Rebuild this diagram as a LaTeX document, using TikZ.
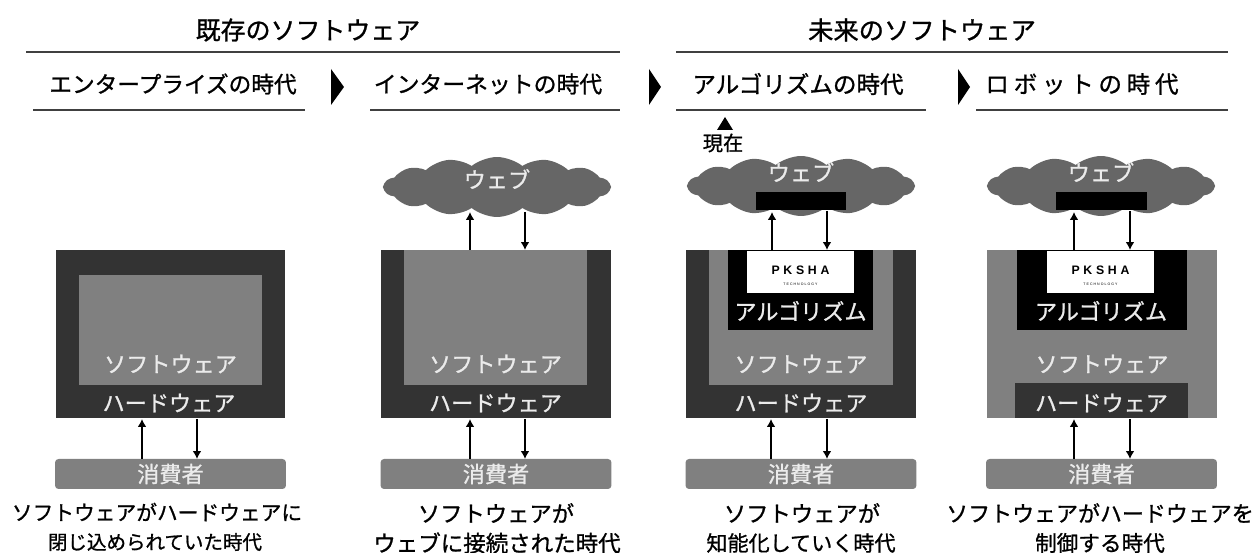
\documentclass[tikz,border=0pt]{standalone}
\usepackage{fontspec}
\newfontfamily\jpfont[FakeBold=1]{Noto Sans CJK JP}
\newfontfamily\jpwide[FakeBold=1,LetterSpace=20]{Noto Sans CJK JP}
\newfontfamily\logofont[LetterSpace=30]{Liberation Sans}
\usetikzlibrary{shapes.symbols,arrows.meta}
\definecolor{darkbox}{HTML}{333333}
\definecolor{midbox}{HTML}{808080}
\definecolor{cloudgray}{HTML}{666666}
\tikzset{
  lbl/.style={inner sep=0, font=\jpfont\fontsize{#1}{14}\selectfont},
  lbl/.default=12.6,
  wlbl/.style={lbl, text=white!92!black},
  box/.style={rectangle, inner sep=0, fill=#1},
  web/.style={cloud, cloud puffs=14, cloud puff arc=78, cloud ignores aspect, inner sep=0,
    minimum width=4.52cm, minimum height=1.2cm, fill=cloudgray},
  user/.style={box=midbox, rounded corners=2pt, minimum width=4.62cm, minimum height=0.6cm},
  rule/.style={draw=black!75, line width=1.3pt},
  flow/.style={draw, line width=1.3pt, -{Latex[length=4.5pt,width=5pt]}}
}
\begin{document}
\begin{tikzpicture}[x=0.02cm,y=-0.02cm]
\useasboundingbox (0,0) rectangle (1259,553);

% titles
\node[lbl=14.2] (past) at (308,30) {既存のソフトウェア};
\node[lbl=14.4] (future) at (922,30) {未来のソフトウェア};
\coordinate (pastl) at (26,52);
\coordinate (pastr) at (620,52);
\coordinate (futl) at (676,52);
\coordinate (futr) at (1228,52);
\path[rule] (pastl) -- (pastr);
\path[rule] (futl) -- (futr);

\node[lbl=12.9] (era1) at (173,84) {エンタープライズの時代};
\node[lbl=13] (era2) at (488,84) {インターネットの時代};
\node[lbl=13.4] (era3) at (798,84) {アルゴリズムの時代};
\node[inner sep=0, font=\jpwide\fontsize{13.4}{14}\selectfont] (era4) at (1082,84) {ロボットの時代};
\coordinate (e1l) at (33,110);
\coordinate (e1r) at (305,110);
\coordinate (e2l) at (370,110);
\coordinate (e2r) at (620,110);
\coordinate (e3l) at (676,110);
\coordinate (e3r) at (926,110);
\coordinate (e4l) at (976,110);
\coordinate (e4r) at (1228,110);
\path[rule] (e1l) -- (e1r);
\path[rule] (e2l) -- (e2r);
\path[rule] (e3l) -- (e3r);
\path[rule] (e4l) -- (e4r);

\fill (331,69) -- (344,87) -- (331,105) -- cycle;
\fill (649,69) -- (661,87) -- (649,105) -- cycle;
\fill (958,69) -- (970,87) -- (958,105) -- cycle;

\fill (725,117) -- (733,130) -- (717,130) -- cycle;
\node[lbl=11.5] (now) at (723,143) {現在};

% enterprise
\node[box=darkbox, minimum width=4.58cm, minimum height=3.36cm] (hw1) at (170.5,334) {};
\node[box=midbox, minimum width=3.66cm, minimum height=2.2cm] (sw1) at (170.5,330) {};
\node[wlbl] (swt1) at (170.5,364) {ソフトウェア};
\node[wlbl] (hwt1) at (169,403) {ハードウェア};
\node[user] (usr1) at (170.5,474) {};
\node[wlbl] (usrt1) at (170.5,474) {消費者};
\coordinate (a1) at (142,459);
\coordinate (b1) at (142,419);
\coordinate (c1) at (197,419);
\coordinate (d1) at (197,459);
\path[flow] (a1) -- (b1);
\path[flow] (c1) -- (d1);
\node[lbl=11.8] (cap1a) at (157,512) {ソフトウェアがハードウェアに};
\node[lbl=11.1] (cap1b) at (155,542) {閉じ込められていた時代};

% internet
\node[box=darkbox, minimum width=4.6cm, minimum height=3.36cm] (hw2) at (496,334) {};
\node[box=midbox, minimum width=3.66cm, minimum height=2.7cm] (sw2) at (495.5,317.5) {};
\node[wlbl] (swt2) at (495.5,364) {ソフトウェア};
\node[wlbl] (hwt2) at (495.5,403) {ハードウェア};
\node[web] (web2) at (497,187) {};
\node[wlbl] (webt2) at (497,179) {ウェブ};
\node[user] (usr2) at (496,474) {};
\node[wlbl] (usrt2) at (496,474) {消費者};
\coordinate (e2) at (470,250);
\coordinate (f2) at (470,212);
\coordinate (g2) at (525,212);
\coordinate (h2) at (525,250);
\path[flow] (e2) -- (f2);
\path[flow] (g2) -- (h2);
\coordinate (a2) at (470,459);
\coordinate (b2) at (470,419);
\coordinate (c2) at (525,419);
\coordinate (d2) at (525,459);
\path[flow] (a2) -- (b2);
\path[flow] (c2) -- (d2);
\node[lbl=12.7] (cap2a) at (496,513) {ソフトウェアが};
\node[lbl=12.8] (cap2b) at (497,543) {ウェブに接続された時代};

% algorithm
\node[box=darkbox, minimum width=4.6cm, minimum height=3.36cm] (hw3) at (801,334) {};
\node[box=midbox, minimum width=3.68cm, minimum height=2.7cm] (sw3) at (801,317.5) {};
\node[box=black, minimum width=2.9cm, minimum height=1.6cm] (alg3) at (800.5,290) {};
\node[box=white, minimum width=2.14cm, minimum height=0.84cm] (logo3) at (800.5,272) {};
\node[inner sep=0, font=\logofont\bfseries\fontsize{7}{8}\selectfont] (name3) at (800.5,270) {PKSHA};
\node[inner sep=0, font=\logofont\fontsize{2}{3}\selectfont] (tech3) at (800.5,284) {TECHNOLOGY};
\node[wlbl] (algt3) at (800.5,311) {アルゴリズム};
\node[wlbl] (swt3) at (801,364) {ソフトウェア};
\node[wlbl] (hwt3) at (801,403) {ハードウェア};
\node[web] (web3) at (801,186) {};
\node[wlbl] (webt3) at (801,172) {ウェブ};
\node[box=black, minimum width=1.8cm, minimum height=0.36cm] (port3) at (801,201) {};
\node[user] (usr3) at (801,474) {};
\node[wlbl] (usrt3) at (801,474) {消費者};
\coordinate (e3) at (772,250);
\coordinate (f3) at (772,212);
\coordinate (g3) at (827,211);
\coordinate (h3) at (827,250);
\path[flow] (e3) -- (f3);
\path[flow] (g3) -- (h3);
\coordinate (a3) at (771,459);
\coordinate (b3) at (771,419);
\coordinate (c3) at (827,419);
\coordinate (d3) at (827,459);
\path[flow] (a3) -- (b3);
\path[flow] (c3) -- (d3);
\node[lbl=12.7] (cap3a) at (802,513) {ソフトウェアが};
\node[lbl=12] (cap3b) at (801,543) {知能化していく時代};

% robot
\node[box=midbox, minimum width=4.6cm, minimum height=3.36cm] (sw4) at (1102,334) {};
\node[box=black, minimum width=3.4cm, minimum height=1.6cm] (alg4) at (1102,290) {};
\node[box=white, minimum width=2.14cm, minimum height=0.84cm] (logo4) at (1100.5,272) {};
\node[inner sep=0, font=\logofont\bfseries\fontsize{7}{8}\selectfont] (name4) at (1100.5,270) {PKSHA};
\node[inner sep=0, font=\logofont\fontsize{2}{3}\selectfont] (tech4) at (1100.5,284) {TECHNOLOGY};
\node[wlbl] (algt4) at (1101,311) {アルゴリズム};
\node[wlbl] (swt4) at (1102,364) {ソフトウェア};
\node[box=darkbox, minimum width=3.46cm, minimum height=0.7cm] (hw4) at (1101.5,400.5) {};
\node[wlbl] (hwt4) at (1101.5,403) {ハードウェア};
\node[web] (web4) at (1101,186) {};
\node[wlbl] (webt4) at (1101,172) {ウェブ};
\node[box=black, minimum width=1.82cm, minimum height=0.36cm] (port4) at (1101.5,201) {};
\node[user] (usr4) at (1101.5,474) {};
\node[wlbl] (usrt4) at (1101.5,474) {消費者};
\coordinate (e4) at (1074,250);
\coordinate (f4) at (1074,212);
\coordinate (g4) at (1130,211);
\coordinate (h4) at (1130,250);
\path[flow] (e4) -- (f4);
\path[flow] (g4) -- (h4);
\coordinate (a4) at (1074,459);
\coordinate (b4) at (1074,419);
\coordinate (c4) at (1130,419);
\coordinate (d4) at (1130,459);
\path[flow] (a4) -- (b4);
\path[flow] (c4) -- (d4);
\node[lbl=12.5] (cap4a) at (1100,513) {ソフトウェアがハードウェアを};
\node[lbl=12.3] (cap4b) at (1100,543) {制御する時代};
\end{tikzpicture}
\end{document}
